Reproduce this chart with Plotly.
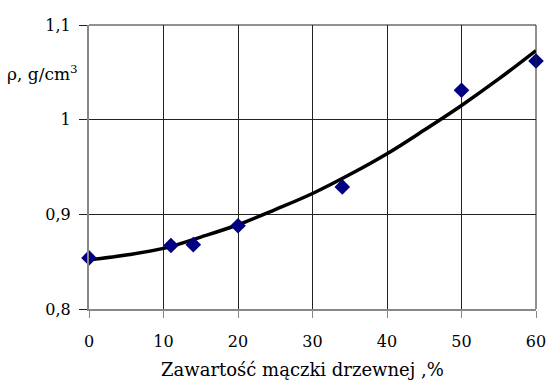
import plotly.graph_objects as go

# measured points
x_pts = [0, 11, 14, 20, 34, 50, 60]
rho_pts = [0.854, 0.867, 0.868, 0.888, 0.929, 1.031, 1.062]

# trend curve
x_curve = [0, 5, 10, 15, 20, 25, 30, 35, 40, 45, 50, 55, 60]
rho_curve = [0.852, 0.857, 0.864, 0.876, 0.889, 0.905, 0.922, 0.942, 0.964, 0.989, 1.015, 1.043, 1.073]

x_ticks = [0, 10, 20, 30, 40, 50, 60]
y_tickvals = [0.8, 0.9, 1.0, 1.1]
y_ticktext = ["0,8", "0,9", "1", "1,1"]

x_title = "Zawartość mączki drzewnej ,%"
y_title = "ρ, g/cm<sup>3</sup>"

FONT = "DejaVu Serif"

fig = go.Figure()
fig.add_trace(go.Scatter(x=x_curve, y=rho_curve, mode="lines",
                         line=dict(color="black", width=3.5, shape="spline"),
                         showlegend=False, hoverinfo="skip"))
fig.add_trace(go.Scatter(x=x_pts, y=rho_pts, mode="markers",
                         marker=dict(symbol="diamond", size=12, color="#000080"),
                         showlegend=False, cliponaxis=False))

fig.update_layout(
    width=550, height=382,
    margin=dict(l=89, r=14, t=25, b=73, autoexpand=False),
    showlegend=False,
    paper_bgcolor="white", plot_bgcolor="white",
    font=dict(family=FONT, size=16, color="black"),
    xaxis=dict(range=[0, 60], tickvals=x_ticks, showgrid=True, gridcolor="#222",
               gridwidth=1, showline=True, linecolor="#888", linewidth=2,
               ticks="outside", ticklen=7, tickcolor="#888", tickwidth=1,
               zeroline=False, automargin=False, ticklabelstandoff=10,
               tickfont=dict(family=FONT, size=16)),
    yaxis=dict(range=[0.8, 1.1], tickvals=y_tickvals, ticktext=y_ticktext,
               showgrid=True, gridcolor="#222", gridwidth=1,
               showline=True, linecolor="#888", linewidth=2,
               ticks="outside", ticklen=8, tickcolor="#222", tickwidth=1,
               tickfont=dict(family=FONT, size=16),
               zeroline=False, automargin=False, ticklabelstandoff=5),
    annotations=[dict(text=y_title, xref="paper", yref="paper",
                      x=-0.02, y=0.83, xanchor="right", yanchor="middle",
                      showarrow=False, font=dict(family=FONT, size=17)),
                 dict(text=x_title, xref="paper", yref="paper",
                      x=0.477, y=0, xanchor="center", yanchor="middle",
                      yshift=-60, showarrow=False,
                      font=dict(family=FONT, size=18))],
    shapes=[dict(type="line", xref="paper", yref="paper", x0=0, x1=1, y0=1, y1=1,
                 line=dict(color="#222", width=1)),
            dict(type="line", xref="paper", yref="paper", x0=1, x1=1, y0=0, y1=1,
                 line=dict(color="#222", width=1))],
)

fig.write_html("out.html")
